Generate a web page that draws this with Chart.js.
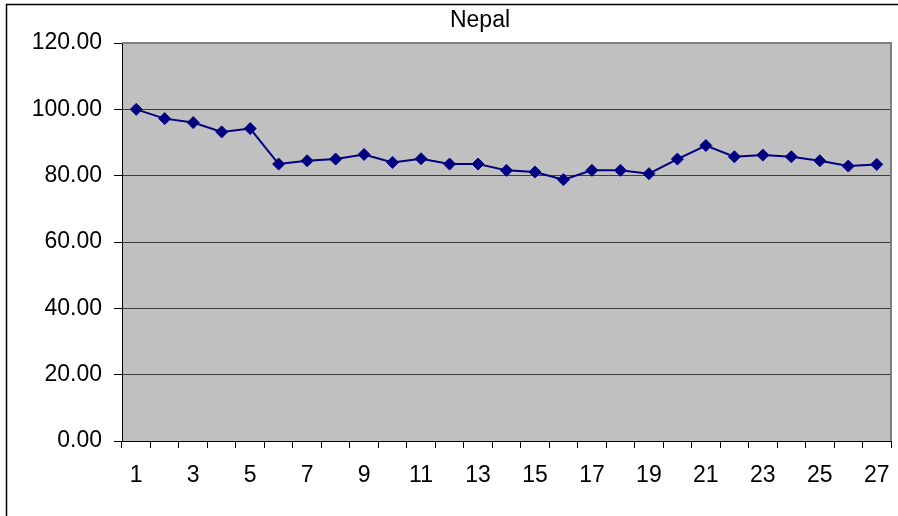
<!DOCTYPE html>
<html>
<head>
<meta charset="utf-8">
<title>Nepal</title>
<script src="https://cdn.jsdelivr.net/npm/chart.js@4/dist/chart.umd.min.js"></script>
<style>
  html, body { margin: 0; padding: 0; background: #ffffff; }
  canvas { display: block; }
</style>
</head>
<body>
<canvas id="chart" width="898" height="516"></canvas>
<script>
// Period index (1..27) and the Nepal index values
const categories = ['1','2','3','4','5','6','7','8','9','10','11','12','13','14','15','16','17','18','19','20','21','22','23','24','25','26','27'];
const nepalValues = [100.0, 97.2, 96.0, 93.2, 94.2, 83.5, 84.5, 85.0, 86.4, 84.0, 85.1, 83.5, 83.5, 81.6, 81.1, 78.8, 81.6, 81.6, 80.6, 85.0, 89.1, 85.7, 86.2, 85.7, 84.5, 82.9, 83.4];
const yTicks = [0, 20, 40, 60, 80, 100, 120];
const chartTitle = 'Nepal';

const FONT = '"Liberation Sans", Arial, sans-serif';

// Grey plot background, outer frame and the title text
const framePlugin = {
  id: 'frame',
  beforeDraw(chart) {
    const { ctx, chartArea: a } = chart;
    ctx.save();
    ctx.fillStyle = '#ffffff';
    ctx.fillRect(0, 0, chart.width, chart.height);
    ctx.fillStyle = '#c0c0c0';
    ctx.fillRect(a.left, a.top, a.right - a.left, a.bottom - a.top);
    ctx.strokeStyle = '#000000';
    ctx.lineWidth = 1.5;
    ctx.beginPath();
    ctx.moveTo(6.5, chart.height);
    ctx.lineTo(6.5, 4.5);
    ctx.lineTo(chart.width, 4.5);
    ctx.stroke();
    ctx.restore();
  },
  beforeDatasetsDraw(chart) {
    const { ctx, chartArea: a } = chart;
    ctx.save();
    ctx.strokeStyle = '#808080';
    ctx.lineWidth = 2;
    ctx.beginPath();
    ctx.moveTo(a.left, a.top);
    ctx.lineTo(a.right, a.top);
    ctx.lineTo(a.right, a.bottom);
    ctx.stroke();
    ctx.restore();
  },
  afterDraw(chart) {
    const { ctx } = chart;
    ctx.save();
    ctx.fillStyle = '#000000';
    ctx.font = '23px ' + FONT;
    ctx.textAlign = 'center';
    ctx.textBaseline = 'middle';
    ctx.fillText(chartTitle, 480, 21);
    ctx.restore();
  }
};

new Chart(document.getElementById('chart'), {
  type: 'line',
  data: {
    labels: categories,
    datasets: [{
      label: chartTitle,
      data: nepalValues,
      borderColor: '#000080',
      backgroundColor: '#000080',
      borderWidth: 2,
      pointStyle: 'rectRot',
      pointRadius: 6,
      pointBorderWidth: 1,
      pointBackgroundColor: '#000080',
      pointBorderColor: '#000080',
      tension: 0,
      fill: false
    }]
  },
  options: {
    responsive: false,
    animation: false,
    layout: { padding: { top: 43, right: 7, left: 0, bottom: 0 } },
    plugins: {
      legend: { display: false },
      title: { display: false },
      tooltip: { enabled: false }
    },
    scales: {
      x: {
        type: 'category',
        offset: true,
        grid: {
          offset: true,
          drawOnChartArea: false,
          drawTicks: true,
          tickLength: 7,
          tickColor: '#000000',
          tickWidth: 1
        },
        border: { color: '#000000', width: 1 },
        ticks: {
          autoSkip: false,
          maxRotation: 0,
          padding: 14,
          color: '#000000',
          font: { family: FONT, size: 23 },
          callback: (v, i) => (i % 2 === 0 ? categories[i] : '')
        },
        afterFit(scale) {
          scale.height = 75;
          scale.paddingLeft = 0;
          scale.paddingRight = 0;
        }
      },
      y: {
        min: 0,
        max: 120,
        afterBuildTicks(scale) { scale.ticks = yTicks.map(v => ({ value: v })); },
        grid: {
          color: (c) => (c.tick && c.tick.value === 120 ? '#808080' : '#3c3c3c'),
          lineWidth: 1,
          tickLength: 8,
          tickColor: '#000000'
        },
        border: { color: '#000000', width: 1 },
        ticks: {
          padding: 12,
          color: '#000000',
          font: { family: FONT, size: 23 },
          callback: (v) => Number(v).toFixed(2)
        },
        afterFit(scale) {
          scale.width = 122;
          scale.paddingTop = 0;
          scale.paddingBottom = 0;
        }
      }
    }
  },
  plugins: [framePlugin]
});
</script>
</body>
</html>
